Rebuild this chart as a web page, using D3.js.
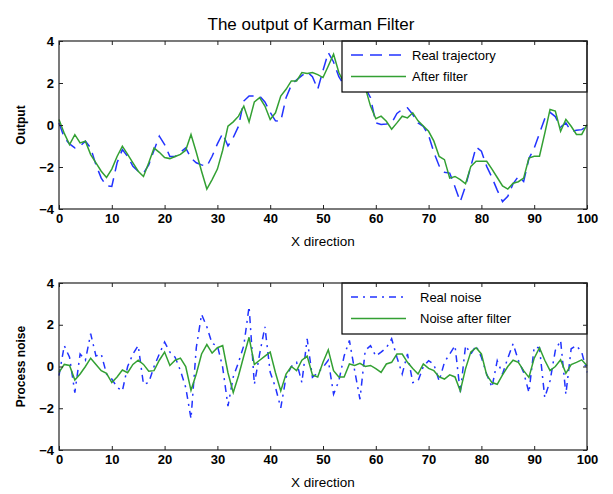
<!DOCTYPE html>
<html>
<head>
<meta charset="utf-8">
<script src="https://cdn.jsdelivr.net/npm/d3@7"></script>
<style>
  body { margin: 0; background: #fff; }
  svg { display: block; }
</style>
</head>
<body>
<svg id="chart" width="613" height="494"></svg>
<script>
// x positions 0..100
const xs = d3.range(0, 101);

// top panel: output
const realTrajectory = [0.1, -0.6, -0.9, -1.09, -1.0, -0.77, -1.09, -1.9, -2.53, -2.9,
  -2.93, -1.8, -1.17, -1.5, -1.97, -2.2, -2.29, -1.9, -1.2, -0.53,
  -0.93, -1.5, -1.5, -1.3, -1.09, -1.57, -1.8, -1.9, -1.97, -1.49,
  -0.9, -0.4, -1.0, -0.6, -0.06, 1.14, 1.38, 1.38, 1.38, 1.1,
  0.6, 0.2, 0.18, 1.3, 1.9, 2.15, 2.35, 2.53, 2.3, 1.7,
  2.6, 3.45, 3.0, 2.3, 1.9, 1.8, 1.8, 1.8, 1.78, 1.3,
  0.1, 0.02, 0.05, 0.1, 0.55, 0.74, 0.82, 0.5, 0.1, -0.06,
  -0.5, -1.3, -1.95, -2.25, -2.29, -2.95, -3.65, -2.9, -1.97, -1.05,
  -1.25, -1.97, -2.5, -3.1, -3.65, -3.4, -2.8, -2.45, -2.69, -1.6,
  -1.1, -0.4, 0.3, 0.6, 0.4, -0.1, 0.1, -0.3, -0.25, -0.22, -0.06];

const afterFilter = [0.26, -0.4, -0.93, -0.46, -0.85, -0.77, -1.41, -1.8, -2.2, -2.5,
  -2.1, -1.5, -1.01, -1.4, -1.8, -2.2, -2.45, -1.8, -1.1, -1.3,
  -1.55, -1.6, -1.5, -1.4, -1.2, -0.45, -1.3, -2.2, -3.05, -2.6,
  -2.1, -1.2, -0.05, 0.15, 0.42, 0.9, 0.15, 1.1, 1.3, 0.9,
  0.26, 0.58, 1.38, 1.7, 2.1, 2.1, 2.5, 2.45, 2.5, 2.4,
  2.26, 2.81, 3.37, 2.5, 2.0, 1.62, 1.68, 1.72, 1.78, 0.9,
  0.3, 0.42, 0.18, -0.2, 0.1, 0.42, 0.34, 0.58, 0.2, -0.05,
  -0.3, -0.77, -1.5, -1.65, -2.53, -2.45, -2.6, -2.8, -1.97, -1.73,
  -1.73, -1.73, -2.1, -2.5, -2.9, -3.05, -2.77, -2.7, -2.53, -1.57,
  -1.49, -1.49, -0.4, 0.74, 0.66, -0.3, 0.26, -0.06, -0.45, -0.45, 0.02];

// bottom panel: process noise
const realNoise = [-0.44, 1.0, 0.44, -1.25, 0.6, 0.3, 1.57, 0.5, 0.6, -0.36,
  -0.6, -1.0, -1.17, 0.0, 0.6, 1.0, -0.85, -0.77, 0.0, 0.6,
  1.17, 0.69, 0.44, -0.2, -1.0, -2.5, 0.9, 2.5, 1.9, 1.1,
  1.0, -0.04, -1.9, -0.5, 0.2, 1.0, 2.87, -0.85, 0.6, 1.9,
  -0.28, -1.0, -1.98, -0.52, 0.0, 0.2, -0.77, 1.33, -0.52, -0.3,
  -0.04, 0.3, -1.33, -0.69, 0.5, 1.25, -0.2, -1.57, 0.77, 1.0,
  0.5, 0.69, 0.9, 1.33, 0.44, -0.36, 0.6, -0.77, -0.69, 0.0,
  0.28, 0.1, -0.69, 0.2, 0.6, 1.0, -1.25, 1.0, 0.6, 1.0,
  0.44, -0.36, -1.0, 0.28, -0.36, 0.4, 1.09, 0.3, -0.28, -1.25,
  0.93, 0.9, -1.49, -0.69, 0.77, 1.25, -1.33, 0.85, 1.0, 0.69, -0.28];

const noiseAfterFilter = [-0.28, 0.1, 0.05, -0.65, -0.36, 0.0, 0.4, 0.1, -0.2, -0.33,
  -0.77, -0.5, -0.17, -0.3, 0.1, 0.3, 0.1, -0.23, -0.2, 0.3,
  0.69, 0.05, 0.3, 0.4, 0.0, -1.14, -0.36, 0.6, 1.05, 0.64,
  0.9, 1.0, -0.3, -1.25, -0.44, 0.5, 1.4, 0.1, 0.3, 0.5,
  0.69, -0.3, -1.17, -0.36, 0.0, -0.2, 0.3, 0.5, -0.4, -0.5,
  0.2, 0.8, -0.2, -0.5, -0.5, 0.12, 0.05, 0.15, 0.0, 0.05,
  -0.1, -0.28, 0.12, 0.2, 0.6, 0.6, 0.2, -0.1, -0.36, 0.12,
  -0.09, -0.2, -0.5, -0.6, -0.4, -0.5, -1.17, -0.1, 0.7, 0.9,
  0.6, -0.4, -0.77, -0.85, -0.4, 0.0, 0.3, 0.2, -0.2, -0.52,
  0.4, 0.9, 0.3, -0.2, 0.0, 0.32, -0.33, 0.09, 0.2, 0.32, 0.04];

const xTicks = [0, 10, 20, 30, 40, 50, 60, 70, 80, 90, 100];
const yTicks = [-4, -2, 0, 2, 4];

const blue = "#2233ff";
const green = "#33a033";
const tickFont = "'Liberation Sans', Arial, sans-serif";

const svg = d3.select("#chart");

svg.append("text")
    .attr("x", 311).attr("y", 30)
    .attr("text-anchor", "middle")
    .style("font-family", tickFont)
    .style("font-size", "17px")
    .text("The output of Karman Filter");

function drawPanel(top, bottom, yLabel, series, legendTexts, dashes) {
    const left = 59, right = 587;
    const x = d3.scaleLinear().domain([0, 100]).range([left, right]);
    const y = d3.scaleLinear().domain([-4, 4]).range([bottom, top]);

    const g = svg.append("g");

    const line = d3.line().x((d, i) => x(xs[i])).y(d => y(d));

    series.forEach((s, k) => {
        g.append("path")
            .datum(s.values)
            .attr("fill", "none")
            .attr("stroke", s.color)
            .attr("stroke-width", 1.5)
            .attr("stroke-dasharray", dashes[k])
            .attr("d", line);
    });

    // legend box (covers lines)
    const lg = g.append("g");
    const lx = 342, ly = top, lw = right - 342, lh = 51;
    lg.append("rect")
        .attr("x", lx).attr("y", ly).attr("width", lw).attr("height", lh)
        .attr("fill", "#fff").attr("stroke", "#000").attr("stroke-width", 1.2);
    series.forEach((s, k) => {
        const yy = ly + 14 + k * 21.5;
        lg.append("line")
            .attr("x1", lx + 9).attr("x2", lx + 64)
            .attr("y1", yy).attr("y2", yy)
            .attr("stroke", s.color).attr("stroke-width", 1.5)
            .attr("stroke-dasharray", dashes[k]);
        lg.append("text")
            .attr("x", lx + 70 + (legendTexts.shift || 0))
            .attr("y", yy + 4.5)
            .style("font-family", tickFont)
            .style("font-size", "13px")
            .text(legendTexts.labels[k]);
    });

    // axes: inward ticks on all four sides
    g.append("g")
        .attr("transform", "translate(0," + bottom + ")")
        .call(d3.axisBottom(x).tickValues(xTicks).tickSize(-4).tickPadding(5))
        .call(a => a.select(".domain").remove())
        .call(a => a.selectAll("text")
            .style("font-family", tickFont).style("font-size", "13px")
            .style("font-weight", "bold").attr("fill", "#000"));

    g.append("g")
        .attr("transform", "translate(0," + top + ")")
        .call(d3.axisTop(x).tickValues(xTicks).tickSize(-4).tickFormat(""))
        .call(a => a.select(".domain").remove());

    g.append("g")
        .attr("transform", "translate(" + left + ",0)")
        .call(d3.axisLeft(y).tickValues(yTicks).tickSize(-4).tickPadding(5))
        .call(a => a.select(".domain").remove())
        .call(a => a.selectAll("text")
            .style("font-family", tickFont).style("font-size", "13px")
            .style("font-weight", "bold").attr("fill", "#000"));

    g.append("g")
        .attr("transform", "translate(" + right + ",0)")
        .call(d3.axisRight(y).tickValues(yTicks).tickSize(-4).tickFormat(""))
        .call(a => a.select(".domain").remove());

    g.append("rect")
        .attr("x", left).attr("y", top)
        .attr("width", right - left).attr("height", bottom - top)
        .attr("fill", "none").attr("stroke", "#222").attr("stroke-width", 1.2);

    g.selectAll(".tick line").attr("stroke", "#222");

    g.append("text")
        .attr("x", 323).attr("y", bottom + 37)
        .attr("text-anchor", "middle")
        .style("font-family", tickFont)
        .style("font-size", "13.5px")
        .text("X direction");

    g.append("text")
        .attr("transform", "translate(25," + ((top + bottom) / 2) + ") rotate(-90)")
        .attr("text-anchor", "middle")
        .style("font-family", tickFont)
        .style("font-size", "12px")
        .style("font-weight", "bold")
        .text(yLabel);
}

drawPanel(41, 209, "Output",
    [{ values: realTrajectory, color: blue }, { values: afterFilter, color: green }],
    { labels: ["Real trajectory", "After filter"] },
    ["12,7", null]);

drawPanel(283, 450, "Process noise",
    [{ values: realNoise, color: blue }, { values: noiseAfterFilter, color: green }],
    { labels: ["Real noise", "Noise after filter"], shift: 8 },
    ["7,5,2,5", null]);
</script>
</body>
</html>
